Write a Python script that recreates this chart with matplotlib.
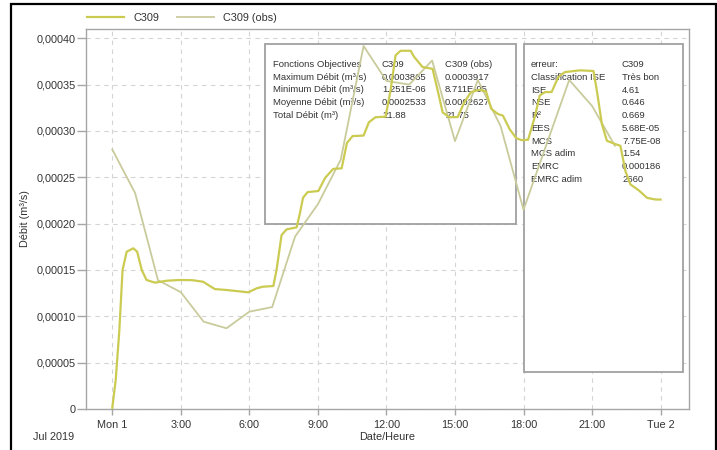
import matplotlib
matplotlib.use("Agg")
import matplotlib.pyplot as plt
from matplotlib.patches import Rectangle

plt.rcParams['font.family'] = ['Liberation Sans', 'DejaVu Sans']

# ---------------- data ----------------
sim_hours = [0.00, 0.15, 0.31, 0.45, 0.63, 0.92, 1.09, 1.29, 1.50, 1.87, 2.38, 2.96, 3.50,
             3.98, 4.20, 4.49, 5.00, 5.95, 6.32, 6.58, 7.05, 7.19, 7.41, 7.63, 8.07, 8.22,
             8.35, 8.55, 9.02, 9.32, 9.67, 10.04, 10.27, 10.52, 11.00, 11.23, 11.52, 11.96,
             12.18, 12.40, 12.62, 13.06, 13.21, 13.58, 14.02, 14.31, 14.46, 14.75, 15.12,
             15.41, 15.70, 16.07, 16.36, 16.59, 16.88, 17.10, 17.39, 17.68, 17.91, 18.20,
             18.49, 18.71, 18.94, 19.23, 19.52, 19.81, 20.47, 21.06, 21.21, 21.43, 21.65,
             22.02, 22.24, 22.46, 22.68, 23.05, 23.41, 23.78, 24.00]
sim_values = [0.00000125, 0.0000313, 0.0000852, 0.000150, 0.0001697, 0.0001734, 0.0001697,
              0.000150, 0.0001392, 0.0001363, 0.0001384, 0.0001392, 0.000139, 0.0001373,
              0.0001338, 0.0001294, 0.0001284, 0.0001259, 0.0001302, 0.0001319, 0.0001327,
              0.000150, 0.0001877, 0.0001938, 0.000196, 0.000212, 0.000228, 0.000234,
              0.0002352, 0.0002495, 0.000259, 0.0002597, 0.000287, 0.0002945, 0.000295,
              0.0003093, 0.0003148, 0.0003154, 0.0003437, 0.0003817, 0.0003865, 0.0003865,
              0.000380, 0.000369, 0.000367, 0.0003365, 0.000320, 0.0003148, 0.000315,
              0.000331, 0.0003419, 0.0003444, 0.0003426, 0.0003237, 0.0003183, 0.0003165,
              0.000302, 0.0002923, 0.0002901, 0.0002905, 0.0003148, 0.0003383, 0.0003419,
              0.000342, 0.0003581, 0.0003635, 0.0003654, 0.0003647, 0.0003437, 0.0003074,
              0.0002894, 0.0002858, 0.000284, 0.0002567, 0.0002423, 0.0002358, 0.0002278,
              0.000226, 0.000226]

obs_hours = list(range(0, 23))
obs_values = [0.000280, 0.000233, 0.000139, 0.000126, 0.0000942, 0.0000871, 0.000105,
              0.000110, 0.000186, 0.000221, 0.000269, 0.0003917, 0.000354, 0.000350,
              0.000376, 0.000289, 0.000355, 0.000305, 0.000215, 0.000285, 0.000355,
              0.000327, 0.000284]

x_ticks = [0, 3, 6, 9, 12, 15, 18, 21, 24]
x_tick_labels = ["Mon 1", "3:00", "6:00", "9:00", "12:00", "15:00", "18:00", "21:00", "Tue 2"]
y_ticks = [0, 0.00005, 0.0001, 0.00015, 0.0002, 0.00025, 0.0003, 0.00035, 0.0004]
y_tick_labels = ["0", "0,00005", "0,00010", "0,00015", "0,00020", "0,00025",
                 "0,00030", "0,00035", "0,00040"]

stats1 = [["Fonctions Objectives", "C309", "C309 (obs)"],
          ["Maximum Débit (m³/s)", "0.0003865", "0.0003917"],
          ["Minimum Débit (m³/s)", "1.251E-06", "8.711E-05"],
          ["Moyenne Débit (m³/s)", "0.0002533", "0.0002627"],
          ["Total Débit (m³)", "21.88", "21.75"]]
stats2 = [["erreur:", "C309"], ["Classification ISE", "Très bon"], ["ISE", "4.61"],
          ["NSE", "0.646"], ["R²", "0.669"], ["EES", "5.68E-05"], ["MCS", "7.75E-08"],
          ["MCS adim", "1.54"], ["EMRC", "0.000186"], ["EMRC adim", "2660"]]

# ---------------- figure ----------------
W, H = 717, 450
fig = plt.figure(figsize=(W / 100, H / 100), dpi=100)
ax = fig.add_axes([86 / W, 1 - 409 / H, (688.7 - 86) / W, (409 - 29) / H])

def fx(px):
    return px / W

def fy(py):
    return 1 - py / H

sim_color = "#cbcb52"
obs_color = "#cacb9c"
txt_color = "#333333"
grid_color = "#d4d4d4"
spine_color = "#a6a6a6"

ax.plot(sim_hours, sim_values, color=sim_color, lw=1.6, zorder=4,
        solid_joinstyle="round", label="C309")
ax.plot(obs_hours, obs_values, color=obs_color, lw=1.3, zorder=3.5,
        solid_joinstyle="round", label="C309 (obs)")

ax.set_xlim(-1.15, 25.23)
ax.set_ylim(0, 0.00041)
ax.set_xticks(x_ticks)
ax.set_xticklabels(x_tick_labels)
ax.set_yticks(y_ticks)
ax.set_yticklabels(y_tick_labels)

ax.grid(True, color=grid_color, linestyle=(0, (4, 4)), linewidth=0.8, zorder=0)
ax.set_axisbelow(True)
for s in ax.spines.values():
    s.set_color(spine_color)
    s.set_linewidth(1.0)
ax.tick_params(axis="x", colors=spine_color, labelcolor=txt_color, labelsize=7.8,
               length=4, width=1.0, pad=4)
ax.tick_params(axis="y", colors=spine_color, labelcolor=txt_color, labelsize=7.8,
               length=6.5, width=1.0, pad=1)

fig.text(fx(25), fy(219), "Débit (m³/s)", fontsize=7.8, color=txt_color,
         ha="center", va="center", rotation=90)
fig.text(fx(387), fy(437), "Date/Heure", fontsize=7.8, color=txt_color,
         ha="center", va="center")
fig.text(fx(54), fy(437), "Jul 2019", fontsize=7.8, color=txt_color,
         ha="center", va="center")

# legend
leg = ax.legend(loc="center left", bbox_to_anchor=(fx(87), fy(18)),
                bbox_transform=fig.transFigure, ncol=2, frameon=False,
                fontsize=7.8, handlelength=3.4, handletextpad=0.9,
                columnspacing=1.6, borderpad=0, borderaxespad=0)
for t in leg.get_texts():
    t.set_color(txt_color)

# statistic boxes
box_edge = "#a0a0a0"
b1 = Rectangle((fx(265), fy(224)), fx(516) - fx(265), fy(44) - fy(224),
               transform=fig.transFigure, facecolor="white", edgecolor=box_edge,
               linewidth=1.3, zorder=1, clip_on=False)
b2 = Rectangle((fx(524), fy(372)), fx(683) - fx(524), fy(44) - fy(372),
               transform=fig.transFigure, facecolor="white", edgecolor=box_edge,
               linewidth=1.3, zorder=1, clip_on=False)
ax.add_patch(b1)
ax.add_patch(b2)

cols1 = [272.7, 382, 445]
for i, row in enumerate(stats1):
    for j, val in enumerate(row):
        ax.text(fx(cols1[j]), fy(64.5 + 12.65 * i), val, transform=fig.transFigure,
                fontsize=6.8, color=txt_color, ha="left", va="center", zorder=2)
cols2 = [531, 622]
for i, row in enumerate(stats2):
    for j, val in enumerate(row):
        ax.text(fx(cols2[j]), fy(64.6 + 12.75 * i), val, transform=fig.transFigure,
                fontsize=6.8, color=txt_color, ha="left", va="center", zorder=2)

# outer black border
fig.add_artist(Rectangle((fx(11), -0.02), fx(716) - fx(11), fy(4) + 0.02,
                         transform=fig.transFigure, fill=False, edgecolor="black",
                         linewidth=1.6))

fig.savefig("out.png", dpi=100)
